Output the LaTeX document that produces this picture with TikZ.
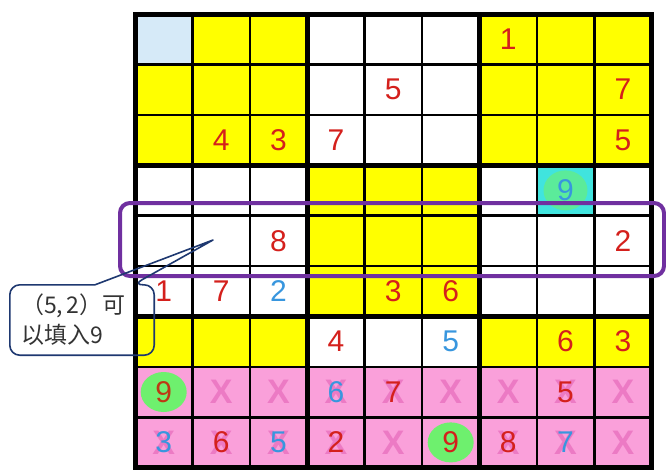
\documentclass[tikz,border=0pt]{standalone}
\usepackage{fontspec}
\setmainfont{Liberation Sans}
\newfontfamily\cjkfont{Noto Sans CJK SC}
\usetikzlibrary{positioning,calc,shapes.geometric}
\definecolor{cellyellow}{RGB}{255,255,0}
\definecolor{cellpink}{RGB}{250,160,218}
\definecolor{cellblue}{RGB}{214,234,248}
\definecolor{cellcyan}{RGB}{64,228,222}
\definecolor{spotgreen}{RGB}{110,240,110}
\definecolor{crossline}{RGB}{236,122,196}
\definecolor{givenred}{RGB}{212,32,28}
\definecolor{darkred}{RGB}{190,56,20}
\definecolor{guessblue}{RGB}{56,150,222}
\definecolor{bandline}{RGB}{112,48,160}
\definecolor{noteline}{RGB}{30,56,112}

\begin{document}
\begin{tikzpicture}[x=1pt, y=-1pt,
  thingrid/.style={line width=2.6pt, black},
  boxgrid/.style={line width=5pt, black},
  num/.style={font=\fontsize{30}{30}\selectfont, inner sep=0pt},
  numr/.style={num, text=givenred},
  numb/.style={num, text=guessblue},
  numd/.style={num, text=darkred},
  cross/.style={font=\bfseries\fontsize{34}{34}\selectfont, text=crossline, inner sep=0pt},
  spot/.style={ellipse, fill=spotgreen, draw=none, minimum width=46pt, minimum height=40pt, inner sep=0pt},
  rowband/.style={draw=bandline, line width=4pt, rounded corners=10pt, minimum width=544pt, minimum height=73pt},
  notetext/.style={font=\cjkfont\fontsize{23}{30}\selectfont, text=black!80, text width=122pt, align=left, minimum width=144pt, minimum height=70pt, inner xsep=11pt},
  noteedge/.style={draw=noteline, line width=1.6pt, line join=round}]

\useasboundingbox (0,0) rectangle (666,469);

% ---- the board: one unit = one cell ----
\begin{scope}[shift={(135pt,-14pt)}, x=57.4pt, y=-50.4pt]
  \fill[cellyellow] (0,0) rectangle (3,3);
  \fill[cellblue] (0,0) rectangle (1,1);
  \fill[cellyellow] (6,0) rectangle (9,3);
  \fill[cellyellow] (3,3) rectangle (6,6);
  \fill[cellyellow] (0,6) rectangle (3,7);
  \fill[cellyellow] (6,6) rectangle (9,7);
  \fill[cellcyan] (7,3) rectangle (8,4);
  \fill[cellpink] (0,7) rectangle (9,9);

  % green marks
  \node[spot, fill opacity=0.6, minimum width=44pt, minimum height=40pt] (g48) at (7.5,3.5) {};
  \node[spot] (g81) at (0.5,7.5) {};
  \node[spot] (g96) at (5.5,8.5) {};

  % grid lines
  \foreach \k in {1,2,4,5,7,8} {
    \draw[thingrid] (\k,0) -- (\k,9);
    \draw[thingrid] (0,\k) -- (9,\k);
  }
  \foreach \k in {3,6} {
    \draw[boxgrid] (\k,0) -- (\k,9);
    \draw[boxgrid] (0,\k) -- (9,\k);
  }
  \draw[boxgrid] (0,0) rectangle (9,9);

  % ruled-out cells in the last two rows
  \foreach \row/\col in {8/2,8/3,8/4,8/5,8/6,8/7,8/8,8/9,9/1,9/2,9/3,9/4,9/5,9/7,9/8,9/9}
    \node[cross] (x\row\col) at (\col-0.5,\row-0.5) {X};

  % given digits
  \foreach \row/\col/\val in {1/7/1,2/5/5,2/9/7,3/2/4,3/3/3,3/4/7,3/9/5,5/3/8,5/9/2,6/1/1,6/2/7,6/5/3,6/6/6,7/4/4,7/8/6,7/9/3,8/5/7,8/8/5,9/2/6,9/4/2,9/6/9,9/7/8}
    \node[numr] (d\row\col) at (\col-0.5,\row-0.5) {\val};
  \foreach \row/\col/\val in {4/8/9,6/3/2,7/6/5,8/4/6,9/1/3,9/3/5,9/8/7}
    \node[numb] (d\row\col) at (\col-0.5,\row-0.5) {\val};
  \node[numd] (d81) at (0.5,7.5) {9};
\end{scope}

% ---- row five and the note ----
\node[rowband] (band) at (392,239.5) {};

\node[notetext] (note) at (82,320) {（5,\,2）可\\以填入9};
\coordinate (tip) at (213,240);
\draw[noteedge] (tip) -- ([xshift=13pt]note.north) [rounded corners=10pt] -- (note.north west) -- (note.south west) -- (note.south east) -- (note.north east) -- ([xshift=51pt]note.north) [sharp corners] -- cycle;
\end{tikzpicture}
\end{document}
